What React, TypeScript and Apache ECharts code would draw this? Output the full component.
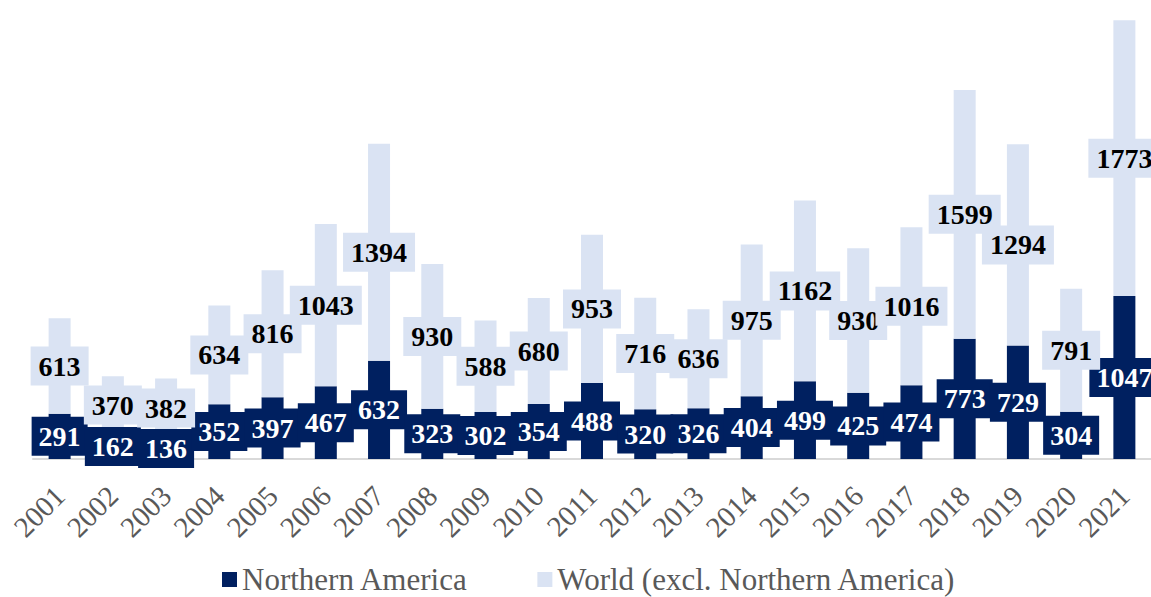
import React, { useEffect, useRef } from "react";
import * as echarts from "echarts";

const years = ["2001","2002","2003","2004","2005","2006","2007","2008","2009","2010","2011","2012","2013","2014","2015","2016","2017","2018","2019","2020","2021"];
const northernAmerica = [291,162,136,352,397,467,632,323,302,354,488,320,326,404,499,425,474,773,729,304,1047];
const worldExcl = [613,370,382,634,816,1043,1394,930,588,680,953,716,636,975,1162,930,1016,1599,1294,791,1773];

const DARK = "#002060";
const LIGHT = "#DAE3F3";
const SERIF = "Liberation Serif";

export default function App() {
  const ref = useRef<HTMLDivElement>(null);
  useEffect(() => {
    if (!ref.current) return;
    const chart = echarts.init(ref.current, null, { renderer: "svg" });
    chart.setOption({
      animation: false,
      backgroundColor: "#ffffff",
      textStyle: { fontFamily: SERIF },
      grid: { left: 33, right: -5, top: 0, bottom: 138 },
      legend: {
        left: 217,
        top: 559,
        icon: "rect",
        itemWidth: 15,
        itemHeight: 15,
        itemGap: 69,
        textStyle: { fontFamily: SERIF, fontSize: 31, lineHeight: 31, color: "#595959" },
        data: ["Northern America", "World (excl. Northern America)"],
      },
      xAxis: {
        type: "category",
        data: years,
        axisLine: { lineStyle: { color: "#D9D9D9", width: 2 } },
        axisTick: { show: false },
        axisLabel: {
          rotate: 45,
          interval: 0,
          margin: 32,
          fontFamily: SERIF,
          fontSize: 29,
          color: "#595959",
        },
      },
      yAxis: {
        type: "value",
        min: 0,
        max: 2950,
        show: false,
        splitLine: { show: false },
      },
      series: [
        {
          name: "Northern America",
          type: "bar",
          stack: "total",
          barWidth: 22,
          data: northernAmerica,
          itemStyle: { color: DARK },
          label: {
            show: true,
            position: "inside",
            fontFamily: SERIF,
            fontWeight: "bold",
            fontSize: 28,
            color: "#ffffff",
            backgroundColor: DARK,
            padding: [6, 7, 5, 7],
          },
        },
        {
          name: "World (excl. Northern America)",
          type: "bar",
          stack: "total",
          barWidth: 22,
          data: worldExcl,
          itemStyle: { color: LIGHT },
          label: {
            show: true,
            position: "inside",
            fontFamily: SERIF,
            fontWeight: "bold",
            fontSize: 28,
            color: "#000000",
            backgroundColor: LIGHT,
            padding: [6, 8, 5, 8],
          },
        },
      ],
    });
    return () => chart.dispose();
  }, []);
  return (
    <div
      ref={ref}
      style={{ position: "absolute", left: 0, top: 0, width: 1151, height: 597 }}
    />
  );
}
